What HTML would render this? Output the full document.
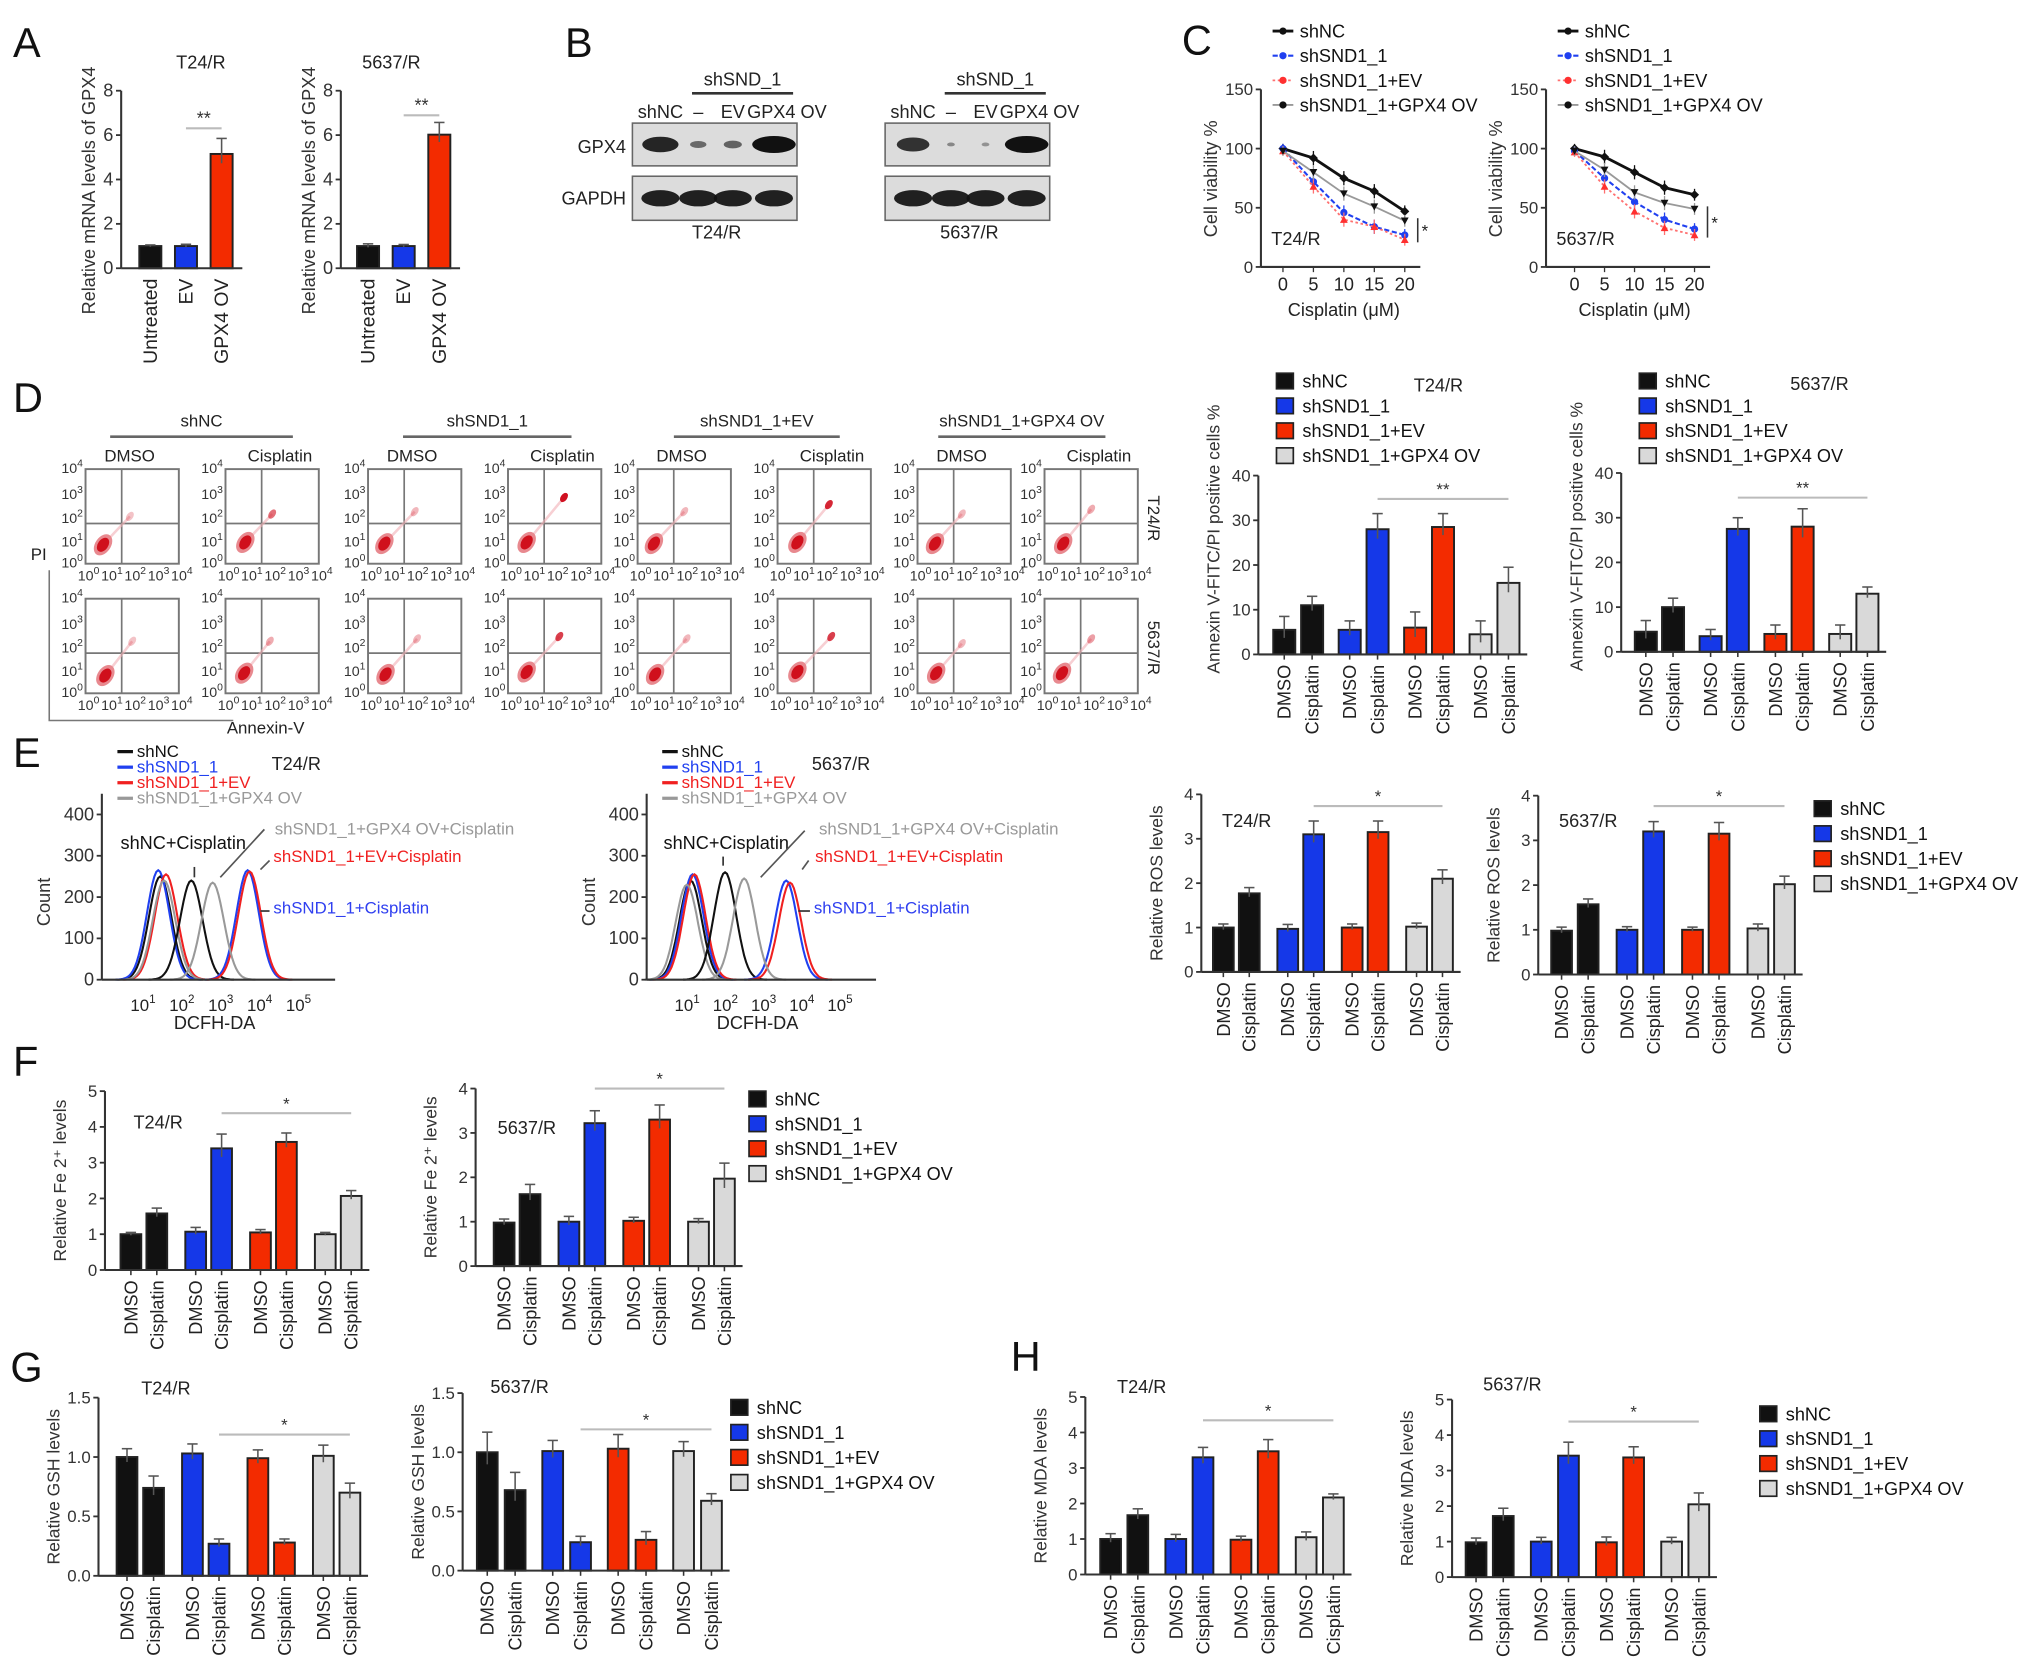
<!DOCTYPE html>
<html><head><meta charset="utf-8"><title>GPX4 / SND1 figure</title>
<style>
html,body{margin:0;padding:0;background:#fff;}
svg{display:block;font-family:"Liberation Sans",Arial,sans-serif;}
</style></head>
<body>
<svg id="fig" xmlns="http://www.w3.org/2000/svg" width="2032" height="1673" viewBox="0 0 1568 1291" preserveAspectRatio="none">
<rect x="0" y="0" width="1568" height="1291" fill="#fff"/>
<g font-size="32" fill="#111">
<text x="10" y="44">A</text>
<text x="436" y="44">B</text>
<text x="912" y="42">C</text>
<text x="10" y="318">D</text>
<text x="10" y="592">E</text>
<text x="10" y="830">F</text>
<text x="8" y="1066">G</text>
<text x="780" y="1058">H</text>
</g>
</svg>
<script>
// ---------------- DATA ----------------
const aCategories=['Untreated','EV','GPX4 OV'];
const aT24Vals=[1,1,5.15];
const aT24Err=[0.05,0.08,0.7];
const a5637Vals=[1,1,6.02];
const a5637Err=[0.1,0.07,0.55];
const aTicks=[0,2,4,6,8];

const seriesNames=['shNC','shSND1_1','shSND1_1+EV','shSND1_1+GPX4 OV'];
const conditionLabels=['DMSO','Cisplatin'];

const cDoses=[0,5,10,15,20];
const cTicksY=[0,50,100,150];
const cT24_shNC=[100,92,75,64,47];
const cT24_sh1=[100,72,46,34,27];
const cT24_EV=[98,68,40,34,23];
const cT24_GPX=[98,80,62,51,39];
const c5637_shNC=[100,93,80,67,61];
const c5637_sh1=[98,75,55,40,32];
const c5637_EV=[97,68,47,33,27];
const c5637_GPX=[98,82,63,54,49];
const cT24Err=[4,6,6,6,5];

const dT24Vals=[5.5,11,5.5,28,6,28.5,4.5,16];
const dT24Err=[3,2,2,3.5,3.5,3,3,3.5];
const d5637Vals=[4.5,10,3.5,27.5,4,28,4,13];
const d5637Err=[2.5,2,1.5,2.5,2,4,2,1.5];
const dTicks=[0,10,20,30,40];

const eT24Vals=[1,1.77,0.97,3.1,1,3.15,1.02,2.1];
const eT24Err=[0.08,0.13,0.1,0.3,0.08,0.25,0.08,0.2];
const e5637Vals=[0.98,1.57,1,3.2,1,3.15,1.03,2.02];
const e5637Err=[0.08,0.12,0.07,0.22,0.06,0.25,0.1,0.18];
const eTicks=[0,1,2,3,4];

const fT24Vals=[1,1.58,1.07,3.4,1.05,3.58,1,2.07];
const fT24Err=[0.05,0.15,0.12,0.4,0.08,0.25,0.05,0.15];
const f5637Vals=[0.98,1.62,1,3.22,1.02,3.3,1,1.97];
const f5637Err=[0.08,0.22,0.12,0.28,0.08,0.33,0.07,0.35];
const fT24Ticks=[0,1,2,3,4,5];
const f5637Ticks=[0,1,2,3,4];

const gT24Vals=[1,0.74,1.03,0.27,0.99,0.28,1.01,0.7];
const gT24Err=[0.07,0.1,0.08,0.04,0.07,0.03,0.09,0.08];
const g5637Vals=[1,0.68,1.01,0.24,1.03,0.26,1.01,0.59];
const g5637Err=[0.17,0.15,0.09,0.05,0.12,0.07,0.08,0.06];
const gTicks=['0.0','0.5','1.0','1.5'];

const hT24Vals=[1,1.67,1,3.3,0.98,3.47,1.05,2.17];
const hT24Err=[0.15,0.18,0.13,0.28,0.1,0.33,0.15,0.1];
const h5637Vals=[0.98,1.72,1,3.42,0.98,3.37,1,2.05];
const h5637Err=[0.12,0.22,0.12,0.38,0.15,0.3,0.12,0.32];
const hTicks=[0,1,2,3,4,5];

// histogram peaks (log10 position) and heights (count)
const histNames=['shNC','shSND1_1','shSND1_1+EV','shSND1_1+GPX4 OV','shNC+Cisplatin','shSND1_1+Cisplatin','shSND1_1+EV+Cisplatin','shSND1_1+GPX4 OV+Cisplatin'];
const histT24Peaks=[1.5,1.45,1.65,1.6,2.3,3.75,3.8,2.85];
const histT24Heights=[250,265,255,240,240,265,262,235];
const hist5637Peaks=[1.15,1.2,1.25,1.05,2.05,3.65,3.75,2.55];
const hist5637Heights=[240,255,255,230,260,240,235,245];
const histTicks=[0,100,200,300,400];

// flow cytometry blobs: main population (log x, log y) and late-apoptotic spot intensity
const flowMainX=[0.75,0.85,0.7,0.8,0.7,0.85,0.75,0.8, 0.85,0.8,0.75,0.8,0.75,0.85,0.8,0.75];
const flowMainY=[0.8,0.9,0.85,0.9,0.85,0.9,0.85,0.85, 0.75,0.85,0.8,0.9,0.8,0.9,0.85,0.85];
const flowLateX=[1.9,2.0,2.0,2.4,2.0,2.2,1.9,2.0, 2.0,1.9,2.1,2.2,2.1,2.3,1.9,2.0];
const flowLateY=[2.0,2.1,2.2,2.8,2.2,2.5,2.1,2.3, 2.2,2.2,2.3,2.4,2.3,2.4,2.1,2.3];
const flowLateI=[0.25,0.6,0.3,1,0.3,0.9,0.3,0.35, 0.25,0.35,0.3,0.8,0.3,0.8,0.3,0.4];

// ---------------- HELPERS ----------------
const NS='http://www.w3.org/2000/svg';
const root=document.getElementById('fig');
const COL=['#111111','#1538e8','#f32b00','#d9d9d9'];
function mk(tag,a,p){const e=document.createElementNS(NS,tag);for(const k in a)e.setAttribute(k,a[k]);(p||root).appendChild(e);return e;}
function tx(x,y,s,a,p){const e=mk('text',Object.assign({x:x,y:y},a||{}),p);e.textContent=s;return e;}
function grp(name){const g=mk('g',{});


return g;}

function yAxis(g,ax,y0,yTop,ticks,max,fs){
  const ln=mk('line',{x1:ax,y1:y0,x2:ax,y2:yTop,stroke:'#333','stroke-width':1.6},g);
  
  
  ticks.forEach(t=>{const v=parseFloat(t);const y=y0-(y0-yTop)*v/max;
    const tk=mk('line',{x1:ax-4,y1:y,x2:ax,y2:y,stroke:'#333','stroke-width':1.4},g);
    
    
    const lb=tx(ax-6,y+4.5,String(t),{'text-anchor':'end','font-size':fs||13,fill:'#333'},g);
    
    
  });
}
function yTitle(g,x,yc,s,fs){
  const t=tx(x,yc,s,{'text-anchor':'middle','font-size':fs||13,fill:'#333',transform:'rotate(-90 '+x+' '+yc+')'},g);
  
  
  return t;
}
function legend(g,x,y0,step,fs){
  seriesNames.forEach((n,i)=>{const y=y0+i*step;
    const r=mk('rect',{x:x,y:y-6,width:13,height:12,fill:COL[i],stroke:'#222','stroke-width':1.3},g);
    
    
    const t=tx(x+20,y+5,n,{'font-size':fs||14,fill:'#111'},g);
    
    
  });
}
function errBar(g,cx,yv,ye,w){
  const l=mk('line',{x1:cx,y1:yv+(yv-ye)*0.6,x2:cx,y2:ye,stroke:'#555','stroke-width':1.2},g);
  
  
  const c=mk('line',{x1:cx-w,y1:ye,x2:cx+w,y2:ye,stroke:'#555','stroke-width':1.2},g);
  
  
}
function grouped(o){
  const g=grp(o.name);
  const sy=v=>o.y0-(o.y0-o.yTop)*v/o.max;
  const cx=i=>o.x0+Math.floor(i/2)*o.gstep+(i%2)*o.pstep;
  o.vals.forEach((v,i)=>{
    const b=mk('rect',{x:cx(i)-o.bw/2,y:sy(v),width:o.bw,height:o.y0-sy(v),fill:COL[Math.floor(i/2)],stroke:'#222','stroke-width':1.5},g);
    
    
    errBar(g,cx(i),sy(v),sy(v+o.errs[i]),4);
    const lx=cx(i)+5,ly=o.y0+8;
    const t=tx(lx,ly,conditionLabels[i%2],{'text-anchor':'end','font-size':14,fill:'#222',transform:'rotate(-90 '+lx+' '+ly+')'},g);
    
    
    const tk=mk('line',{x1:cx(i),y1:o.y0,x2:cx(i),y2:o.y0+4,stroke:'#333','stroke-width':1.2},g);
    
    
  });
  const xa=mk('line',{x1:o.ax,y1:o.y0,x2:cx(7)+o.bw/2+6,y2:o.y0,stroke:'#333','stroke-width':1.6},g);
  
  
  yAxis(g,o.ax,o.y0,o.yTop,o.ticks,o.max,13);
  yTitle(g,o.ax-30,(o.y0+o.yTop)/2+(o.ytOff||0),o.ylabel,13.5);
  const sl=mk('line',{x1:cx(3),y1:o.sigY,x2:cx(7),y2:o.sigY,stroke:'#bbb','stroke-width':1.6},g);
  
  
  const st=tx((cx(3)+cx(7))/2,o.sigY-3,o.mark,{'text-anchor':'middle','font-size':13,fill:'#333'},g);
  
  
  const tt=tx(o.tx,o.ty,o.title,{'text-anchor':o.ta||'middle','font-size':14,fill:'#222'},g);
  
  
  return g;
}

// ---------------- PANEL A ----------------
function panelA(name,vals,errs,ax,x0,title,tx0,sigY){
  const g=grp(name);const y0=207,yTop=70,max=8;
  const sy=v=>y0-(y0-yTop)*v/max;const cx=i=>x0+i*27.5;
  vals.forEach((v,i)=>{
    const b=mk('rect',{x:cx(i)-8.5,y:sy(v),width:17,height:y0-sy(v),fill:[COL[0],COL[1],COL[2]][i],stroke:'#222','stroke-width':1.5},g);
    
    
    errBar(g,cx(i),sy(v),sy(v+errs[i]),4);
    const lx=cx(i)+5,ly=y0+8;
    const t=tx(lx,ly,aCategories[i],{'text-anchor':'end','font-size':15,fill:'#222',transform:'rotate(-90 '+lx+' '+ly+')'},g);
    
    
  });
  const xa=mk('line',{x1:ax,y1:y0,x2:cx(2)+16,y2:y0,stroke:'#333','stroke-width':1.6},g);
  
  
  yAxis(g,ax,y0,yTop,aTicks,max,14);
  yTitle(g,ax-20,y0-60,'Relative mRNA levels of GPX4',14);
  const sl=mk('line',{x1:cx(1),y1:sigY,x2:cx(2),y2:sigY,stroke:'#bbb','stroke-width':1.6},g);
  
  
  const st=tx((cx(1)+cx(2))/2,sigY-3,'**',{'text-anchor':'middle','font-size':14,fill:'#333'},g);
  
  
  const tt=tx(tx0,53,title,{'text-anchor':'middle','font-size':14,fill:'#222'},g);
  
  
}
panelA('panel-a-t24',aT24Vals,aT24Err,93.5,116,'T24/R',155,99);
panelA('panel-a-5637',a5637Vals,a5637Err,263,284,'5637/R',302,89);

// ---------------- PANEL B (western blots) ----------------
const blotLanes=['shNC','–','EV','GPX4 OV'];
const blotGPX4T24=[1,0.45,0.5,1.3];
const blotGPX45637=[0.9,0.2,0.1,1.3];
function blot(name,x,title,inten){
  const g=grp(name);
  const w=127;const laneX=[0.17,0.40,0.61,0.86];
  [[95,33,'gpx4'],[136,34,'gapdh']].forEach((r,ri)=>{
    const bx=mk('rect',{x:x,y:r[0],width:w,height:r[1],fill:'#dcdcdc',stroke:'#666','stroke-width':1.2},g);
    
    
    laneX.forEach((f,i)=>{const s=ri===0?inten[i]:1.05;
      const e=mk('ellipse',{cx:x+w*f,cy:r[0]+r[1]/2,rx:Math.max(3,14*Math.min(s,1.2)),ry:Math.max(1.5,6*Math.min(s,1.1)),fill:'#111',opacity:Math.min(1,0.3+s*0.6)},g);
      
      
    });
  });
  blotLanes.forEach((l,i)=>{const t=tx(x+w*laneX[i]+(i===3?10:0),91,l,{'text-anchor':'middle','font-size':14,fill:'#222'},g);
    
    });
  const hl=mk('line',{x1:x+46,y1:72,x2:x+124,y2:72,stroke:'#333','stroke-width':2},g);
  
  
  const ht=tx(x+85,66,'shSND_1',{'text-anchor':'middle','font-size':14,fill:'#222'},g);
  
  
  const tt=tx(x+65,184,title,{'text-anchor':'middle','font-size':14,fill:'#222'},g);
  
  
}
blot('blot-t24',488,'T24/R',blotGPX4T24);
blot('blot-5637',683,'5637/R',blotGPX45637);
(function(){const g=grp('blot-row-labels');
const a=tx(483,118,'GPX4',{'text-anchor':'end','font-size':14,fill:'#222'},g);


const b=tx(483,158,'GAPDH',{'text-anchor':'end','font-size':14,fill:'#222'},g);

})();

// ---------------- PANEL C (line charts) ----------------
function lineChart(name,ax,x0,x20,series,title,errArr){
  const g=grp(name);const y0=206,yTop=69;
  const sx=d=>x0+(x20-x0)*d/20;const sy=v=>y0-(y0-yTop)*v/150;
  const xa=mk('line',{x1:ax,y1:y0,x2:x20+12,y2:y0,stroke:'#333','stroke-width':1.6},g);
  
  
  yAxis(g,ax,y0,yTop,cTicksY,150,13);
  yTitle(g,ax-34,y0-68,'Cell viability %',14);
  cDoses.forEach(d=>{const t=tx(sx(d),y0+18,String(d),{'text-anchor':'middle','font-size':14,fill:'#222'},g);
    
    
    const k=mk('line',{x1:sx(d),y1:y0,x2:sx(d),y2:y0+4,stroke:'#333'},g);
    
    });
  const xt=tx((x0+x20)/2,y0+38,'Cisplatin (μM)',{'text-anchor':'middle','font-size':14,fill:'#222'},g);
  
  
  const styles=[{c:'#111',d:'',w:2.2},{c:'#2040f0',d:'4,2',w:1.6},{c:'#ff7070',d:'2,2',w:1.4},{c:'#999',d:'',w:1.4}];
  series.forEach((s,si)=>{const st=styles[si];
    const pts=s.map((v,i)=>sx(cDoses[i])+','+sy(v)).join(' ');
    const pl=mk('polyline',{points:pts,fill:'none',stroke:st.c,'stroke-width':st.w,'stroke-dasharray':st.d},g);
    
    
    s.forEach((v,i)=>{const x=sx(cDoses[i]),y=sy(v);
      const eb=mk('line',{x1:x,y1:sy(v-errArr[i]),x2:x,y2:sy(v+errArr[i]),stroke:st.c,'stroke-width':1},g);
      
      
      const m=si===1?mk('circle',{cx:x,cy:y,r:2.8,fill:'#2040f0'},g):si===2?mk('polygon',{points:(x)+','+(y-3)+' '+(x-3)+','+(y+2.5)+' '+(x+3)+','+(y+2.5),fill:'#ff3030'},g):si===3?mk('polygon',{points:(x-3)+','+(y-2.5)+' '+(x+3)+','+(y-2.5)+' '+x+','+(y+3),fill:'#111'},g):mk('polygon',{points:x+','+(y-3.5)+' '+(x+3.5)+','+y+' '+x+','+(y+3.5)+' '+(x-3.5)+','+y,fill:'#111'},g);
      
      
    });
  });
  const t=tx(ax+8,y0-17,title,{'font-size':14,fill:'#222'},g);
  
  
  const br=mk('line',{x1:x20+10,y1:sy(series[3][4])-2,x2:x20+10,y2:sy(series[2][4])+2,stroke:'#333','stroke-width':1.2},g);
  
  
  const bs=tx(x20+13,(sy(series[3][4])+sy(series[2][4]))/2+5,'*',{'font-size':13,fill:'#222'},g);
  
  
  const lx=ax+17;
  seriesNames.forEach((n,i)=>{const y=24+i*19;const st=styles[i];
    const l=mk('line',{x1:lx-8,y1:y,x2:lx+8,y2:y,stroke:st.c,'stroke-width':st.w,'stroke-dasharray':st.d},g);
    
    
    const m=mk('circle',{cx:lx,cy:y,r:2.8,fill:i===0?'#111':i===1?'#2040f0':i===2?'#ff3030':'#111'},g);
    
    
    const t2=tx(lx+13,y+5,n,{'font-size':14,fill:'#111'},g);
    
    
  });
}
lineChart('panel-c-t24',973,990,1084,[cT24_shNC,cT24_sh1,cT24_EV,cT24_GPX],'T24/R',cT24Err);
lineChart('panel-c-5637',1193,1215,1307.6,[c5637_shNC,c5637_sh1,c5637_EV,c5637_GPX],'5637/R',cT24Err);

// ---------------- PANEL D flow ----------------
(function(){
  const g=grp('panel-d-flow');
  const boxX=[66,174,284,392,492,600,708,806];const boxY=[362,462];const W=72,H=73;
  const heads=[['shNC',85,226],['shSND1_1',311,441],['shSND1_1+EV',520,648],['shSND1_1+GPX4 OV',724,853]];
  heads.forEach(h=>{const t=tx((h[1]+h[2])/2,329,h[0],{'text-anchor':'middle','font-size':13,fill:'#222'},g);
    
    
    const l=mk('line',{x1:h[1],y1:337,x2:h[2],y2:337,stroke:'#666','stroke-width':2},g);
    
    });
  boxX.forEach((bx,i)=>{const t=tx(bx+W/2+(i%2?6:-2),356,conditionLabels[i%2],{'text-anchor':'middle','font-size':13,fill:'#222'},g);
    
    });
  boxY.forEach((by,r)=>boxX.forEach((bx,c)=>{const k=r*8+c;
    const px=L=>bx+W*L/4, py=L=>by+H-H*L/4;
    const b=mk('rect',{x:bx,y:by,width:W,height:H,fill:'#fff',stroke:'#777','stroke-width':1.5},g);
    
    
    const q1=mk('line',{x1:px(1.55),y1:by,x2:px(1.55),y2:by+H,stroke:'#777','stroke-width':1.3},g);
    
    
    const q2=mk('line',{x1:bx,y1:py(1.7),x2:bx+W,y2:py(1.7),stroke:'#777','stroke-width':1.3},g);
    
    
    const mx=px(flowMainX[k]),my=py(flowMainY[k]);
    const tail=mk('line',{x1:mx,y1:my,x2:px(flowLateX[k]),y2:py(flowLateY[k]),stroke:'#f2b0b6','stroke-width':2,opacity:0.6},g);
    
    
    const e1=mk('ellipse',{cx:mx,cy:my,rx:6,ry:9,fill:'#e8898f',transform:'rotate(35 '+mx+' '+my+')'},g);
    
    
    const e2=mk('ellipse',{cx:mx,cy:my,rx:4,ry:6,fill:'#d0101c',transform:'rotate(35 '+mx+' '+my+')'},g);
    
    
    const e3=mk('ellipse',{cx:px(flowLateX[k]),cy:py(flowLateY[k]),rx:2.5,ry:4,fill:'#d01020',opacity:flowLateI[k],transform:'rotate(35 '+px(flowLateX[k])+' '+py(flowLateY[k])+')'},g);
    
    
    [0,1,2,3,4].forEach(p=>{
      const ty=tx(bx-2,py(p)+5-(p===4?2:0)+(p===0?-2:0),'10',{'text-anchor':'end','font-size':11,fill:'#333'},g);
      const sp=mk('tspan',{dy:-5,'font-size':8},ty);sp.textContent=String(p);
      
      
      const tX=tx(bx-6+p*18,by+H+13,'10',{'font-size':11,fill:'#333'},g);
      const sp2=mk('tspan',{dy:-5,'font-size':8},tX);sp2.textContent=String(p);
      
      
    });
  }));
  const pi=tx(36,432,'PI',{'text-anchor':'end','font-size':13,fill:'#222'},g);
  
  
  const an=tx(205,566,'Annexin-V',{'text-anchor':'middle','font-size':13,fill:'#222'},g);
  
  
  const ll=mk('polyline',{points:'38,440 38,556 180,556',fill:'none',stroke:'#777','stroke-width':1.2},g);
  
  
  [['T24/R',400],['5637/R',500]].forEach(a=>{const t=tx(886,a[1],a[0],{'text-anchor':'middle','font-size':13,fill:'#222',transform:'rotate(90 886 '+a[1]+')'},g);
    
    });
})();

// ---------------- grouped bar charts ----------------
grouped({name:'panel-d-t24',vals:dT24Vals,errs:dT24Err,ax:971,y0:505,yTop:367,max:40,ticks:dTicks,x0:991,pstep:21.5,gstep:50.5,bw:17,ylabel:'Annexin V-FITC/PI positive cells %',ytOff:-20,sigY:385,mark:'**',title:'T24/R',tx:1110,ty:302});
grouped({name:'panel-d-5637',vals:d5637Vals,errs:d5637Err,ax:1251,y0:503,yTop:365,max:40,ticks:dTicks,x0:1270,pstep:21,gstep:50,bw:17,ylabel:'Annexin V-FITC/PI positive cells %',ytOff:-20,sigY:384,mark:'**',title:'5637/R',tx:1404,ty:301});
(function(){const g=grp('panel-d-legends');legend(g,985,294,19.2,14);legend(g,1265,294,19.2,14);})();

grouped({name:'panel-e-t24',vals:eT24Vals,errs:eT24Err,ax:927,y0:750,yTop:613,max:4,ticks:eTicks,x0:944,pstep:20,gstep:49.7,bw:16,ylabel:'Relative ROS levels',sigY:622,mark:'*',title:'T24/R',tx:943,ty:638,ta:'start'});
grouped({name:'panel-e-5637',vals:e5637Vals,errs:e5637Err,ax:1187,y0:752,yTop:614,max:4,ticks:eTicks,x0:1205,pstep:20.5,gstep:50.5,bw:16,ylabel:'Relative ROS levels',sigY:622,mark:'*',title:'5637/R',tx:1203,ty:638,ta:'start'});
(function(){const g=grp('panel-e-legend');legend(g,1400,624,19.3,14);})();

grouped({name:'panel-f-t24',vals:fT24Vals,errs:fT24Err,ax:81,y0:980,yTop:842,max:5,ticks:fT24Ticks,x0:101,pstep:20,gstep:50,bw:16,ylabel:'Relative Fe 2⁺ levels',sigY:859,mark:'*',title:'T24/R',tx:103,ty:871,ta:'start'});
grouped({name:'panel-f-5637',vals:f5637Vals,errs:f5637Err,ax:367,y0:977,yTop:840,max:4,ticks:f5637Ticks,x0:389,pstep:20,gstep:50,bw:16,ylabel:'Relative Fe 2⁺ levels',sigY:840,mark:'*',title:'5637/R',tx:384,ty:875,ta:'start'});
(function(){const g=grp('panel-f-legend');legend(g,578,848,19.2,14);})();

grouped({name:'panel-g-t24',vals:gT24Vals,errs:gT24Err,ax:76,y0:1216,yTop:1078.5,max:1.5,ticks:gTicks,x0:98,pstep:20.5,gstep:50.5,bw:16,ylabel:'Relative GSH levels',sigY:1107,mark:'*',title:'T24/R',tx:128,ty:1076});
grouped({name:'panel-g-5637',vals:g5637Vals,errs:g5637Err,ax:357,y0:1212,yTop:1075,max:1.5,ticks:gTicks,x0:376,pstep:21.5,gstep:50.5,bw:16,ylabel:'Relative GSH levels',sigY:1103,mark:'*',title:'5637/R',tx:401,ty:1075});
(function(){const g=grp('panel-g-legend');legend(g,564,1086,19.3,14);})();

grouped({name:'panel-h-t24',vals:hT24Vals,errs:hT24Err,ax:837.5,y0:1215,yTop:1078,max:5,ticks:hTicks,x0:857,pstep:21,gstep:50.3,bw:16,ylabel:'Relative MDA levels',sigY:1096,mark:'*',title:'T24/R',tx:881,ty:1075});
grouped({name:'panel-h-5637',vals:h5637Vals,errs:h5637Err,ax:1120.5,y0:1217,yTop:1080,max:5,ticks:hTicks,x0:1139,pstep:21,gstep:50.3,bw:16,ylabel:'Relative MDA levels',sigY:1097,mark:'*',title:'5637/R',tx:1167,ty:1073});
(function(){const g=grp('panel-h-legend');legend(g,1358,1091,19.2,14);})();

// ---------------- PANEL E histograms ----------------
function hist(name,ax,dec,peaks,heights,title,ann){
  const g=grp(name);const y0=756,yTop=628.5;
  const sx=L=>ax+L*dec;const sy=c=>y0-(y0-yTop)*c/400;
  const cols=['#111','#2040f0','#f02020','#999','#111','#2040f0','#f02020','#999'];
  peaks.forEach((p,i)=>{let pts=[];
    for(let L=p-1.1;L<=p+1.1001;L+=0.05){const z=(L-p)/0.29;pts.push(sx(L).toFixed(1)+','+sy(heights[i]*Math.exp(-z*z/2)).toFixed(1));}
    const pl=mk('polyline',{points:pts.join(' '),fill:'none',stroke:cols[i],'stroke-width':1.6},g);
    
    
  });
  const xa=mk('line',{x1:ax,y1:y0,x2:ax+6*dec,y2:y0,stroke:'#333','stroke-width':1.6},g);
  
  
  yAxis(g,ax,y0,yTop-16,histTicks,400*(y0-yTop+16)/(y0-yTop),14);
  [1,2,3,4,5].forEach(p=>{const t=tx(sx(p)-8,y0+24,'10',{'font-size':13,fill:'#222'},g);
    const s=mk('tspan',{dy:-6,'font-size':9},t);s.textContent=String(p);
    
    });
  const xt=tx(sx(2.9),y0+38,'DCFH-DA',{'text-anchor':'middle','font-size':14,fill:'#222'},g);
  
  
  yTitle(g,ax-40,y0-60,'Count',14);
  const lcol=['#111','#2040f0','#f02020','#999'];
  seriesNames.forEach((n,i)=>{const y=584+i*12;
    const l=mk('line',{x1:ax+12,y1:y-4,x2:ax+24,y2:y-4,stroke:lcol[i],'stroke-width':2.5},g);
    
    
    const t=tx(ax+27,y,n,{'font-size':13,fill:lcol[i]},g);
    
    });
  const tt=tx(ax+150,594,title,{'text-anchor':'middle','font-size':14,fill:'#222'},g);
  
  
  ann.forEach(a=>{const t=tx(a[0],a[1],a[2],{'font-size':a[4]||13,fill:a[3]},g);
    
    });
}
hist('panel-e-hist-t24',78.6,30,histT24Peaks,histT24Heights,'T24/R',[[93,655,'shNC+Cisplatin','#111',14],[212,644,'shSND1_1+GPX4 OV+Cisplatin','#999'],[211,665,'shSND1_1+EV+Cisplatin','#f02020'],[211,705,'shSND1_1+Cisplatin','#3040f0']]);
hist('panel-e-hist-5637',499,29.5,hist5637Peaks,hist5637Heights,'5637/R',[[512,655,'shNC+Cisplatin','#111',14],[632,644,'shSND1_1+GPX4 OV+Cisplatin','#999'],[629,665,'shSND1_1+EV+Cisplatin','#f02020'],[628,705,'shSND1_1+Cisplatin','#3040f0']]);
(function(){const g=grp('panel-e-pointer-lines');
[[170,677,204,640,'#555'],[201,671,208,664,'#555'],[150,669,150,677,'#333'],[201,703,208,703,'#333'],[587,677,621,641,'#555'],[619,671,624,664,'#555'],[558,661,558,668,'#333'],[616,703,625,703,'#333']].forEach(l=>{
  const e=mk('line',{x1:l[0],y1:l[1],x2:l[2],y2:l[3],stroke:l[4],'stroke-width':1.3},g);
  
  });})();
</script>
</body></html>
